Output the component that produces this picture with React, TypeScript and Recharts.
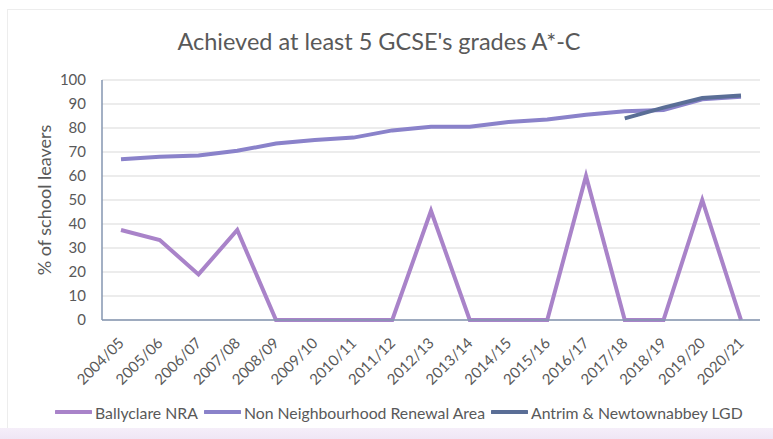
import React from 'react';
import { LineChart, Line, XAxis, YAxis, CartesianGrid, Legend } from 'recharts';

const years = [
  '2004/05', '2005/06', '2006/07', '2007/08', '2008/09', '2009/10', '2010/11', '2011/12', '2012/13',
  '2013/14', '2014/15', '2015/16', '2016/17', '2017/18', '2018/19', '2019/20', '2020/21',
];
const ballyclare = [37.5, 33.3, 19, 37.5, 0, 0, 0, 0, 45.5, 0, 0, 0, 60, 0, 0, 50, 0];
const nonNra = [67, 68, 68.5, 70.5, 73.5, 75, 76, 79, 80.5, 80.5, 82.5, 83.5, 85.5, 87, 87.5, 92, 93];
const lgd = [null, null, null, null, null, null, null, null, null, null, null, null, null, 84, 88.5, 92.5, 93.5];
const yTicks = [0, 10, 20, 30, 40, 50, 60, 70, 80, 90, 100];

const series = [
  { key: 'ballyclare', name: 'Ballyclare NRA', color: '#A983C9' },
  { key: 'nonNra', name: 'Non Neighbourhood Renewal Area', color: '#8A82CA' },
  { key: 'lgd', name: 'Antrim & Newtownabbey LGD', color: '#5A6E96' },
];

const data = years.map((year, i) => ({
  year,
  ballyclare: ballyclare[i],
  nonNra: nonNra[i],
  lgd: lgd[i],
}));

const FONT = 'Lato, "Open Sans", sans-serif';
const TEXT = '#595959';

const XTick = ({ x, y, payload }: any) => (
  <g transform={`translate(${x + 4},${y + 22})`}>
    <text x={0} y={0} textAnchor="end" transform="rotate(-45)" fill={TEXT} fontSize={15} fontFamily={FONT}>
      {payload.value}
    </text>
  </g>
);

const YLabel = ({ viewBox }: any) => {
  const cx = viewBox.x + 51;
  const cy = viewBox.y + viewBox.height / 2;
  return (
    <text x={cx} y={cy} transform={`rotate(-90 ${cx} ${cy})`} textAnchor="middle" fill={TEXT} fontSize={18} fontFamily={FONT}>
      % of school leavers
    </text>
  );
};

const LegendContent = () => (
  <div style={{ height: 20, display: 'flex', alignItems: 'center', paddingLeft: 55, fontFamily: FONT, fontSize: 15.8, color: TEXT }}>
    {series.map(s => (
      <div key={s.key} style={{ display: 'flex', alignItems: 'center', marginRight: 6 }}>
        <svg width={37} height={6} style={{ marginRight: 3 }}>
          <line x1={1} y1={3} x2={36} y2={3} stroke={s.color} strokeWidth={4} strokeLinecap="round" />
        </svg>
        <span>{s.name}</span>
      </div>
    ))}
  </div>
);

export default function App() {
  return (
    <div style={{ position: 'absolute', left: 0, top: 0, width: 773, height: 439, background: '#fff', overflow: 'hidden' }}>
      <div style={{ position: 'absolute', left: 7, top: 9, right: -2, bottom: 10, border: '1px solid #EDEDED' }} />
      <div style={{ position: 'absolute', left: 0, right: 0, bottom: 0, height: 11, background: 'linear-gradient(#F5EEF9, #EFE6F5)' }} />
      <div style={{ position: 'absolute', left: -16, top: 27, width: 790, textAlign: 'center', fontFamily: FONT, fontSize: 23.5, color: TEXT, whiteSpace: 'nowrap' }}>
        Achieved at least 5 GCSE's grades A*-C
      </div>
      <LineChart width={773} height={439} data={data} margin={{ top: 80, right: 13, bottom: 39, left: 0 }}>
        <CartesianGrid vertical={false} stroke="#D9D9D9" />
        <XAxis
          dataKey="year"
          interval={0}
          height={60}
          padding={{ left: 19, right: 19 }}
          tickLine={false}
          tickSize={0}
          tick={<XTick />}
          axisLine={{ stroke: '#8496B0', strokeWidth: 1.5 }}
        />
        <YAxis
          width={102}
          domain={[0, 100]}
          ticks={yTicks}
          tickLine={false}
          tickSize={0}
          tickMargin={16}
          tick={{ fill: TEXT, fontSize: 15, fontFamily: FONT }}
          axisLine={{ stroke: '#8496B0', strokeWidth: 1.5 }}
          label={{ content: <YLabel /> } as any}
        />
        <Legend verticalAlign="bottom" content={<LegendContent />} wrapperStyle={{ bottom: 17, left: 0, width: 773 }} />
        {series.map(s => (
          <Line
            key={s.key}
            type="linear"
            dataKey={s.key}
            name={s.name}
            stroke={s.color}
            strokeWidth={4}
            dot={false}
            activeDot={false}
            connectNulls={false}
            isAnimationActive={false}
          />
        ))}
      </LineChart>
    </div>
  );
}
